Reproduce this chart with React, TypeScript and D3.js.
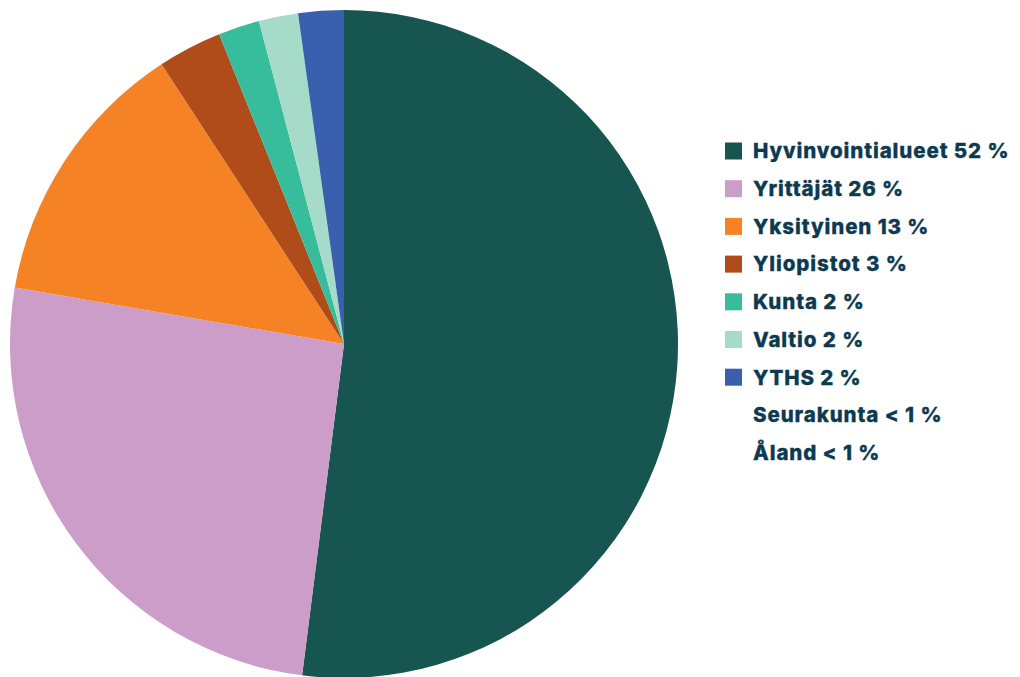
import React from 'react';
import * as d3 from 'd3';

const categories = ['Hyvinvointialueet', 'Yrittäjät', 'Yksityinen', 'Yliopistot', 'Kunta', 'Valtio', 'YTHS'];
const shares = [52.0, 25.7, 13.1, 3.1, 2.0, 1.9, 2.2];
const colors = ['#175550', '#cd9dca', '#f58225', '#b04c19', '#38bd9c', '#a7dbc9', '#3a5fae'];
const legendLabels = [
  'Hyvinvointialueet 52 %',
  'Yrittäjät 26 %',
  'Yksityinen 13 %',
  'Yliopistot 3 %',
  'Kunta 2 %',
  'Valtio 2 %',
  'YTHS 2 %',
  'Seurakunta < 1 %',
  'Åland < 1 %',
];

const W = 1020;
const H = 677;

export default function App() {
  const cx = 344;
  const cy = 344;
  const r = 334;

  const pie = d3.pie<number>().sort(null).value(d => d);
  const arcs = pie(shares);
  const arc = d3.arc<d3.PieArcDatum<number>>().innerRadius(0).outerRadius(r);
  const color = d3.scaleOrdinal<string, string>().domain(categories).range(colors);

  const legendY = d3.scaleLinear().domain([0, 1]).range([151, 188.7]);

  return (
    <div style={{ position: 'fixed', left: 0, top: 0, width: W, height: H, background: '#fff' }}>
      <svg width={W} height={H}>
        <g transform={`translate(${cx},${cy})`}>
          {arcs.map((a, i) => (
            <path key={categories[i]} d={arc(a) || ''} fill={color(categories[i])} />
          ))}
        </g>
        <g fontFamily="Inter, sans-serif" fontWeight={800} fontSize={20.5} letterSpacing={0.9}
          fill="#0d3a4f" stroke="#0d3a4f" strokeWidth={0.3}>
          {legendLabels.map((label, i) => (
            <g key={label} transform={`translate(725,${legendY(i)})`}>
              {i < categories.length && (
                <rect x={0} y={-8.5} width={17} height={17} fill={color(categories[i])} stroke="none" />
              )}
              <text x={28} y={0} dy="0.36em">{label}</text>
            </g>
          ))}
        </g>
      </svg>
    </div>
  );
}
